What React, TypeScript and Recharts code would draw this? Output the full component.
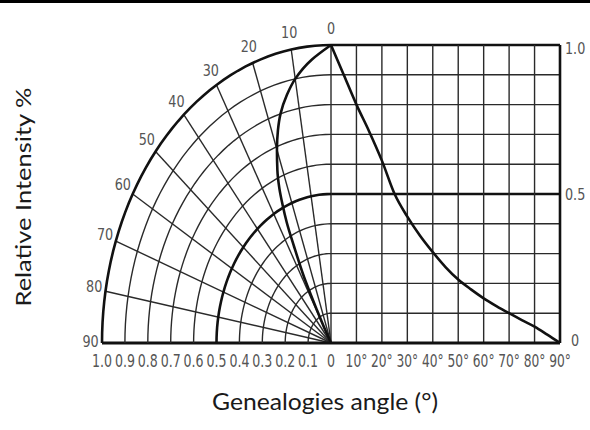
import { ComposedChart, Line, Scatter, XAxis, YAxis, ReferenceLine } from 'recharts'

// right half: relative intensity against angle (deg)
const cartAngles = [0, 5, 10, 15, 20, 25, 30, 35, 40, 45, 50, 55, 60, 65, 70, 75, 80, 85, 90]
const cartIntensity = [1.0, 0.9, 0.8, 0.71, 0.612, 0.5, 0.424, 0.36, 0.305, 0.255, 0.213, 0.18, 0.15, 0.124, 0.1, 0.077, 0.055, 0.028, 0]

// left half: the pattern as it is drawn on the polar grid (the drawing is not quite the same curve)
const polarAngles = [0, 5, 10, 13, 16, 18, 20, 22, 23.5, 24.5, 25.5, 26.5, 28, 29, 30, 30]
const polarIntensity = [1.0, 0.955, 0.9, 0.855, 0.8, 0.75, 0.69, 0.625, 0.565, 0.51, 0.45, 0.36, 0.25, 0.125, 0.05, 0]

const rings = [0.1, 0.2, 0.3, 0.4, 0.5, 0.6, 0.7, 0.8, 0.9, 1.0]
const spokes = [0, 10, 20, 30, 40, 50, 60, 70, 80, 90]
const polarLabels = ['0', '10', '20', '30', '40', '50', '60', '70', '80', '90']
const ringLabels = ['1.0', '0.9', '0.8', '0.7', '0.6', '0.5', '0.4', '0.3', '0.2', '0.1', '0']
const ringLabelValues = [1.0, 0.9, 0.8, 0.7, 0.6, 0.5, 0.4, 0.3, 0.2, 0.1, 0]
const angleLabels = ['10°', '20°', '30°', '40°', '50°', '60°', '70°', '80°', '90°']
const intensityLabels = ['1.0', '0.5', '0']
const intensityLabelValues = [1.0, 0.5, 0]

const W = 590
const H = 430
// pixel position of the origin and length of one unit on each axis
const OX = 331
const OY = 343
const SX = 229
const SY = 298
const U_DOMAIN = [-OX / SX, (W - OX) / SX]
const V_DOMAIN = [(OY - H) / SY, OY / SY]

const THIN = '#2a2a2a'
const THICK = '#111'
const LABEL = '#555'
const rad = (d: number) => (d * Math.PI) / 180

const polarPoint = (deg: number, r: number) => ({ u: -r * Math.sin(rad(deg)), v: r * Math.cos(rad(deg)) })

const ringData = rings.map((r) => {
  const pts = []
  for (let a = 0; a <= 90; a += 2) pts.push(polarPoint(a, r))
  return pts
})

const cartData = cartAngles.map((a, i) => ({ u: a / 90, v: cartIntensity[i] }))
const polarData = polarAngles.map((a, i) => polarPoint(a, polarIntensity[i]))

const polarLabelData = polarLabels.map((text, i) => ({ ...polarPoint(spokes[i], 1.05), text }))
const ringLabelData = ringLabels.map((text, i) => ({ u: -ringLabelValues[i], v: -0.062, text }))
const angleLabelData = angleLabels.map((text, i) => ({ u: (i + 1) / 9, v: -0.062, text }))
const intensityLabelData = intensityLabels.map((text, i) => ({
  u: 1.066,
  v: intensityLabelValues[i] === 1 ? 0.987 : intensityLabelValues[i] === 0 ? 0.01 : 0.5,
  text,
}))

const makeText = (fontSize: number, squeeze: number, dy = 0) =>
  function TextMark(props: any) {
    const { cx, cy, payload } = props
    if (cx == null || cy == null) return <g />
    return (
      <text
        transform={`translate(${cx},${cy + dy}) scale(${squeeze},1)`}
        textAnchor="middle"
        dominantBaseline="central"
        fontFamily="'DejaVu Sans', sans-serif"
        fontSize={fontSize}
        fill={LABEL}
      >
        {payload.text}
      </text>
    )
  }

const seg = (a: { u: number; v: number }, b: { u: number; v: number }) => [
  { x: a.u, y: a.v },
  { x: b.u, y: b.v },
]

export default function App() {
  return (
    <div style={{ position: 'absolute', left: 0, top: 0, width: W, height: H, background: '#fff' }}>
      <div style={{ position: 'absolute', left: 0, top: 0, width: W, height: 3, background: '#000' }} />
      <ComposedChart width={W} height={H} margin={{ top: 0, right: 0, bottom: 0, left: 0 }}>
        <XAxis type="number" dataKey="u" domain={U_DOMAIN} allowDataOverflow hide />
        <YAxis type="number" dataKey="v" domain={V_DOMAIN} allowDataOverflow hide />

        {/* rectangular grid on the right */}
        {rings.map((r) => (
          <ReferenceLine
            key={`h${r}`}
            segment={seg({ u: 0, v: r }, { u: 1, v: r })}
            stroke={r === 0.5 || r === 1 ? THICK : THIN}
            strokeWidth={r === 0.5 || r === 1 ? 2.6 : 1.4}
          />
        ))}
        {spokes.map((a) => (
          <ReferenceLine
            key={`vl${a}`}
            segment={seg({ u: a / 90, v: 0 }, { u: a / 90, v: 1 })}
            stroke={a === 90 ? THICK : THIN}
            strokeWidth={a === 90 ? 2.6 : 1.4}
          />
        ))}

        {/* polar grid on the left */}
        {spokes
          .filter((a) => a > 0 && a < 90)
          .map((a) => (
            <ReferenceLine
              key={`sp${a}`}
              segment={seg({ u: 0, v: 0 }, polarPoint(a, 1))}
              stroke={THIN}
              strokeWidth={1.4}
            />
          ))}
        <ReferenceLine segment={seg({ u: -1, v: 0 }, { u: 1, v: 0 })} stroke={THICK} strokeWidth={2.8} />

        {ringData.map((pts, i) => (
          <Line
            key={`ring${rings[i]}`}
            data={pts}
            dataKey="v"
            type="linear"
            stroke={rings[i] === 0.5 || rings[i] === 1 ? THICK : THIN}
            strokeWidth={rings[i] === 0.5 || rings[i] === 1 ? 2.6 : 1.4}
            dot={false}
            activeDot={false}
            isAnimationActive={false}
          />
        ))}

        {/* radiation pattern */}
        <Line
          data={cartData}
          dataKey="v"
          type="monotone"
          stroke={THICK}
          strokeWidth={2.6}
          dot={false}
          activeDot={false}
          isAnimationActive={false}
        />
        <Line
          data={polarData}
          dataKey="v"
          type="monotoneY"
          stroke={THICK}
          strokeWidth={2.6}
          dot={false}
          activeDot={false}
          isAnimationActive={false}
        />

        {/* tick labels */}
        <Scatter data={polarLabelData} shape={makeText(16, 0.8, -2)} isAnimationActive={false} />
        <Scatter data={ringLabelData} shape={makeText(18, 0.7)} isAnimationActive={false} />
        <Scatter data={angleLabelData} shape={makeText(18, 0.68)} isAnimationActive={false} />
        <Scatter data={intensityLabelData} shape={makeText(16, 0.8)} isAnimationActive={false} />
      </ComposedChart>

      <svg width={W} height={H} style={{ position: 'absolute', left: 0, top: 0, pointerEvents: 'none' }}>
        <text
          x={325}
          y={410}
          textAnchor="middle"
          fontFamily="Lato"
          fontSize={23}
          fill="#1a1a1a"
          textLength={226}
          lengthAdjust="spacingAndGlyphs"
        >
          Genealogies angle (°)
        </text>
        <text
          transform="translate(31,197) rotate(-90)"
          textAnchor="middle"
          fontFamily="Lato"
          fontSize={22}
          fill="#1a1a1a"
          textLength={219}
          lengthAdjust="spacingAndGlyphs"
        >
          Relative Intensity %
        </text>
      </svg>
    </div>
  )
}
